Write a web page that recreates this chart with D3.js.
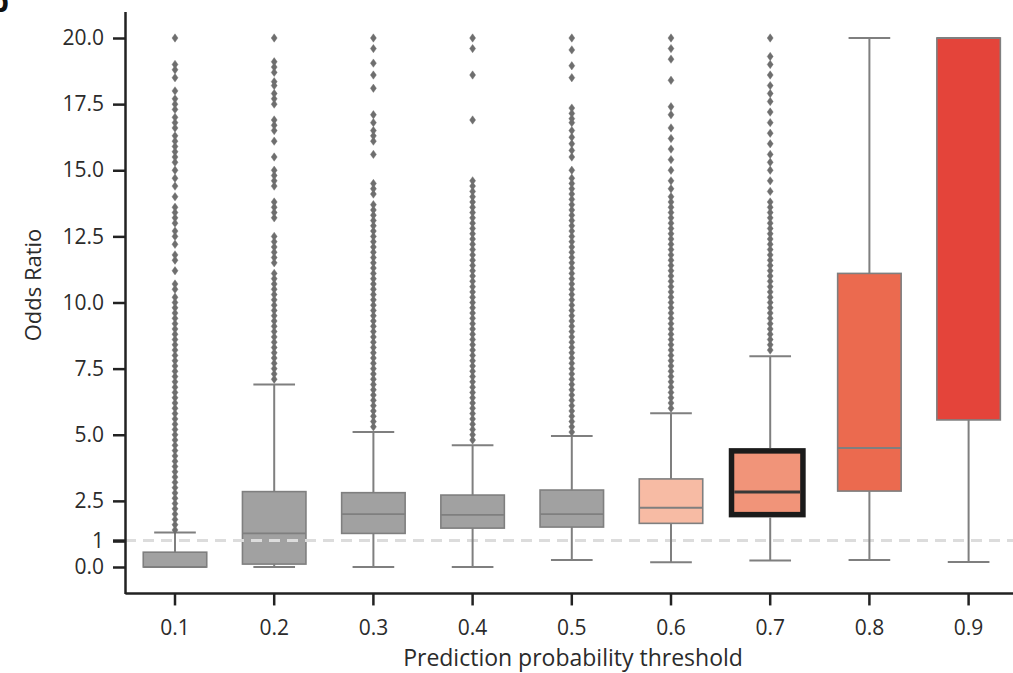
<!DOCTYPE html>
<html><head><meta charset="utf-8">
<script src="https://cdn.jsdelivr.net/npm/d3@7"></script>
<style>body{margin:0;background:#fff}svg{display:block}</style>
</head><body><svg id="c" width="1013" height="673"></svg>
<script>
// ---- data ----
const categories = ["0.1","0.2","0.3","0.4","0.5","0.6","0.7","0.8","0.9"];
const whiskerLow  = [0,    0,    0,    0,    0.26, 0.18, 0.25, 0.26, 0.19];
const q1          = [0,    0.11, 1.27, 1.47, 1.51, 1.65, 1.98, 2.87, 5.56];
const medians     = [0,    1.27, 2.0,  1.97, 2.0,  2.24, 2.84, 4.5,  20.0];
const q3          = [0.56, 2.85, 2.81, 2.72, 2.91, 3.33, 4.39, 11.1, 20.0];
const whiskerHigh = [1.3,  6.9,  5.1,  4.6,  4.95, 5.81, 7.97, 20.0, 20.0];
const boxColors   = ["#a1a1a1","#a1a1a1","#a1a1a1","#a1a1a1","#a1a1a1","#f7bba4","#f19479","#eb6a4f","#e4443a"];
const highlighted = "0.7";
const yTickValues = [0, 1, 2.5, 5, 7.5, 10, 12.5, 15, 17.5, 20];
const referenceLine = 1;

const outliers01 = [1.4,1.6,1.8,2.0,2.2,2.4,2.6,2.8,3.0,3.2,3.4,3.6,3.8,4.0,4.2,4.4,4.6,4.8,5.0,5.2,5.4,5.6,5.8,6.0,6.2,6.4,6.6,6.8,7.0,7.2,7.4,7.6,7.8,8.0,8.2,8.4,8.6,8.8,9.0,9.2,9.4,9.6,9.8,10.0,
  10.2,10.5,10.7,11.2,11.6,11.8,12.2,12.5,12.7,13.0,13.2,13.4,13.6,14.0,14.4,14.7,15.0,15.3,15.5,15.7,15.9,16.1,16.3,16.6,16.8,17.0,17.3,17.5,17.7,18.0,18.5,18.8,19.0,20.0];
const outliers02 = [7.1,7.3,7.5,7.7,7.9,8.1,8.3,8.5,8.7,8.9,9.1,9.3,9.5,9.7,9.9,10.1,10.3,10.5,10.7,10.9,11.1,11.5,11.7,11.9,12.1,12.3,12.5,
  13.2,13.4,13.6,13.8,14.4,14.6,14.8,15.0,15.5,16.1,16.5,16.7,16.9,17.5,17.7,17.9,18.2,18.35,18.7,18.9,19.1,20.0];
const outliers03 = [5.3,5.5,5.7,5.9,6.1,6.3,6.5,6.7,6.9,7.1,7.3,7.5,7.7,7.9,8.1,8.3,8.5,8.7,8.9,9.1,9.3,9.5,9.7,9.9,10.1,10.3,10.5,10.7,10.9,11.1,11.3,11.5,11.7,11.9,12.1,12.3,12.5,12.7,12.9,13.1,13.3,13.5,13.7,
  14.1,14.3,14.5,15.6,16.1,16.3,16.5,16.8,17.1,18.1,18.6,19.05,19.6,20.0];
const outliers04 = [4.8,5.0,5.2,5.4,5.6,5.8,6.0,6.2,6.4,6.6,6.8,7.0,7.2,7.4,7.6,7.8,8.0,8.2,8.4,8.6,8.8,9.0,9.2,9.4,9.6,9.8,10.0,10.2,10.4,10.6,10.8,11.0,11.2,11.4,11.6,11.8,12.0,12.2,12.4,12.6,12.8,13.0,13.2,13.4,13.6,13.8,14.0,14.2,14.4,
  14.6,16.9,18.6,19.6,20.0];
const outliers05 = [5.1,5.3,5.5,5.7,5.9,6.1,6.3,6.5,6.7,6.9,7.1,7.3,7.5,7.7,7.9,8.1,8.3,8.5,8.7,8.9,9.1,9.3,9.5,9.7,9.9,10.1,10.3,10.5,10.7,10.9,11.1,11.3,11.5,11.7,11.9,12.1,12.3,12.5,12.7,12.9,13.1,13.3,13.5,13.7,13.9,14.1,14.3,14.5,14.7,
  15.0,15.5,15.75,16.0,16.25,16.5,16.8,16.95,17.15,17.35,18.5,18.95,19.55,20.0];
const outliers06 = [6.0,6.2,6.4,6.6,6.8,7.0,7.2,7.4,7.6,7.8,8.0,8.2,8.4,8.6,8.8,9.0,9.2,9.4,9.6,9.8,10.0,10.2,10.4,10.6,10.8,11.0,11.2,11.4,11.6,11.8,12.0,12.2,12.4,12.6,12.8,13.0,13.2,13.4,13.6,13.8,14.0,
  14.3,14.6,15.0,15.4,15.8,16.2,16.6,17.1,17.4,18.4,19.2,19.6,20.0];
const outliers07 = [8.2,8.4,8.6,8.8,9.0,9.2,9.4,9.6,9.8,10.0,10.2,10.4,10.6,10.8,11.0,11.2,11.4,11.6,11.8,12.0,12.2,12.4,12.6,12.8,13.0,13.2,13.4,13.6,13.8,
  14.2,14.6,15.0,15.3,15.6,16.0,16.4,16.8,17.2,17.6,17.9,18.2,18.6,19.0,19.3,20.0];
const outliers08 = [];
const outliers09 = [];
const outlierSets = [outliers01,outliers02,outliers03,outliers04,outliers05,outliers06,outliers07,outliers08,outliers09];

// ---- layout ----
const W = 1013, H = 673;
const svg = d3.select("#c");
svg.append("rect").attr("width", W).attr("height", H).attr("fill", "#fff");
const font = "'Open Sans', 'Noto Sans', sans-serif";
const x = d3.scaleBand().domain(categories).range([125.4, 1018.2]).padding(0);
const y = d3.scaleLinear().domain([-1, 21]).range([593.45, 11.55]);
const bw = x.bandwidth();
const boxW = bw * 0.64, capW = bw * 0.42;
const xc = c => x(c) + bw / 2;
const edge = "#7f7f7f";

const rows = categories.map((c, i) => ({c, i, lo: whiskerLow[i], q1: q1[i], med: medians[i], q3: q3[i], hi: whiskerHigh[i], fill: boxColors[i], out: outlierSets[i]}));

const g = svg.append("g");
// boxes
rows.forEach(r => {
  const hl = r.c === highlighted;
  const left = hl ? xc(r.c) - bw * 0.39 : xc(r.c) - boxW / 2;
  const right = hl ? xc(r.c) + bw * 0.33 : xc(r.c) + boxW / 2;
  g.append("rect")
    .attr("x", left).attr("y", y(r.q3))
    .attr("width", right - left).attr("height", Math.max(0.5, y(r.q1) - y(r.q3)))
    .attr("fill", r.fill)
    .attr("stroke", hl ? "#1b1b1b" : edge)
    .attr("stroke-width", hl ? 5.5 : 1.6);
});

// reference dashed line
g.append("line")
  .attr("x1", 125).attr("x2", W)
  .attr("y1", y(referenceLine)).attr("y2", y(referenceLine))
  .attr("stroke", "#dcdcdc").attr("stroke-width", 3).attr("stroke-dasharray", "11,7");

// whiskers, caps, medians
rows.forEach(r => {
  const hl = r.c === highlighted;
  const cx = xc(r.c);
  const topEdge = hl ? y(r.q3) - 2.75 : y(r.q3);
  const botEdge = hl ? y(r.q1) + 2.75 : y(r.q1);
  if (r.hi > r.q3) {
    g.append("line").attr("x1", cx).attr("x2", cx).attr("y1", topEdge).attr("y2", y(r.hi)).attr("stroke", edge).attr("stroke-width", 2);
  }
  g.append("line").attr("x1", cx - capW / 2).attr("x2", cx + capW / 2).attr("y1", y(r.hi)).attr("y2", y(r.hi)).attr("stroke", edge).attr("stroke-width", 2);
  if (r.lo < r.q1) {
    g.append("line").attr("x1", cx).attr("x2", cx).attr("y1", botEdge).attr("y2", y(r.lo)).attr("stroke", edge).attr("stroke-width", 2);
  }
  g.append("line").attr("x1", cx - capW / 2).attr("x2", cx + capW / 2).attr("y1", y(r.lo)).attr("y2", y(r.lo)).attr("stroke", edge).attr("stroke-width", 2);
  const left = hl ? cx - bw * 0.39 + 2.75 : cx - boxW / 2;
  const right = hl ? cx + bw * 0.33 - 2.75 : cx + boxW / 2;
  g.append("line").attr("x1", left).attr("x2", right).attr("y1", y(r.med)).attr("y2", y(r.med))
    .attr("stroke", hl ? "#383838" : edge).attr("stroke-width", hl ? 3 : 1.8);
});

// outliers (thin diamonds)
const diamond = "M0,-4.2L3,0L0,4.2L-3,0Z";
rows.forEach(r => {
  g.selectAll(null).data(r.out).enter().append("path")
    .attr("d", diamond)
    .attr("transform", v => `translate(${xc(r.c)},${y(v)})`)
    .attr("fill", "#6e6e6e").attr("stroke", "#6e6e6e").attr("stroke-width", 0.4);
});

// axes
const axisColor = "#222";
const yAxis = svg.append("g").attr("transform", "translate(125,0)")
  .call(d3.axisLeft(y).tickValues(yTickValues).tickSize(12).tickSizeOuter(0).tickPadding(9)
    .tickFormat(v => v === 1 ? "1" : d3.format(".1f")(v)));
yAxis.select(".domain").attr("stroke", axisColor).attr("stroke-width", 2.5);
yAxis.selectAll(".tick line").attr("stroke", axisColor).attr("stroke-width", v => v === 1 ? 3.5 : 2.5);
yAxis.selectAll(".tick text").attr("font-family", font).attr("font-size", 21).attr("fill", "#2b2b2b");

const xAxis = svg.append("g").attr("transform", `translate(0,${y(-1)})`)
  .call(d3.axisBottom(x).tickSize(12).tickSizeOuter(0).tickPadding(15));
xAxis.select(".domain").attr("d", `M125.4,0H${W}`).attr("stroke", axisColor).attr("stroke-width", 2.5);
xAxis.selectAll(".tick line").attr("stroke", axisColor).attr("stroke-width", 2.5);
xAxis.selectAll(".tick text").attr("font-family", font).attr("font-size", 21).attr("fill", "#2b2b2b");

// titles
svg.append("text").attr("x", 573).attr("y", 666).attr("text-anchor", "middle")
  .attr("font-family", font).attr("font-size", 23).attr("fill", "#2b2b2b")
  .text("Prediction probability threshold");
svg.append("text").attr("transform", "translate(41,285) rotate(-90)").attr("text-anchor", "middle")
  .attr("font-family", font).attr("font-size", 22).attr("fill", "#2b2b2b")
  .text("Odds Ratio");
// panel letter (cropped at the top-left, as in the source figure)
svg.append("text").attr("x", -10).attr("y", 12).attr("font-family", font).attr("font-weight", "bold")
  .attr("font-size", 30).attr("fill", "#111").text("b");
</script></body></html>
